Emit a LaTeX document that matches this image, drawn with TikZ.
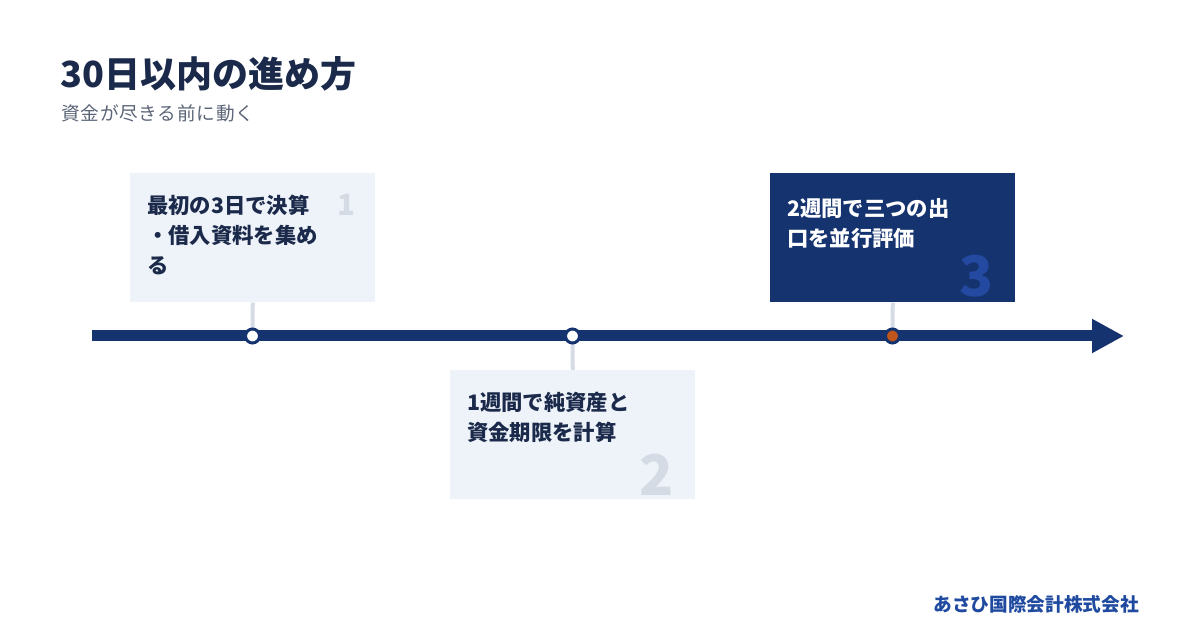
\documentclass[tikz,border=0pt]{standalone}
\usepackage{fontspec}
\setmainfont{Noto Sans CJK JP}
\usetikzlibrary{positioning,arrows.meta}
\definecolor{navy}{HTML}{14336F}
\definecolor{ink}{HTML}{1B2A4A}
\definecolor{panel}{HTML}{EEF2F9}
\definecolor{stemgray}{HTML}{D5DCE5}
\definecolor{numgray}{HTML}{D5DBE4}
\definecolor{numblue}{HTML}{2449A0}
\definecolor{ember}{HTML}{C0561B}
\definecolor{brand}{HTML}{1F4AA0}
\definecolor{subgray}{HTML}{5B6577}

\begin{document}
\begin{tikzpicture}[x=0.75pt,y=-0.75pt,
      stagebox/.style={anchor=north west, inner sep=0pt, minimum width=183.75pt, minimum height=96.75pt},
      stagetext/.style={anchor=north west, inner sep=0pt, align=left, font=\fontsize{16}{22.5}\selectfont\bfseries},
      dot/.style={circle, draw=navy, line width=2.25pt, fill=white, minimum size=10.5pt, inner sep=0pt},
      stem/.style={stemgray, line width=3pt}]
   \useasboundingbox (0,0) rectangle (1200,630);
   % heading
   \node[anchor=base west, inner sep=0pt, text=ink, font=\fontsize{27}{30}\selectfont\bfseries] (title) at (60,88) {30日以内の進め方};
   \node[anchor=base west, inner sep=0pt, text=subgray, font=\fontsize{14}{16}\selectfont\addfontfeature{LetterSpace=4}] (subtitle) at (61,121) {資金が尽きる前に動く};
   % three stages
   \node[stagebox, fill=panel] (s1) at (130,173) {};
   \node[stagebox, fill=panel] (s2) at (450,370) {};
   \node[stagebox, fill=navy] (s3) at (770,173) {};
   \node[stagetext, text=ink] (t1) at (147,195) {最初の3日で決算\\・借入資料を集め\\る};
   \node[stagetext, text=ink] (t2) at (467,392) {1週間で純資産と\\資金期限を計算};
   \node[stagetext, text=white] (t3) at (787,198) {2週間で三つの出\\口を並行評価};
   \node[anchor=base east, inner sep=0pt, text=numgray, font=\fontsize{22}{22}\selectfont\bfseries] (n1) at (356,216) {1};
   \node[anchor=base east, inner sep=0pt, text=numgray, font=\fontsize{42}{42}\selectfont\bfseries] (n2) at (674,496) {2};
   \node[anchor=base east, inner sep=0pt, text=numblue, font=\fontsize{42}{42}\selectfont\bfseries] (n3) at (994,297) {3};
   % timeline
   \coordinate (tl0) at (92,336);
   \coordinate (tl1) at (1124,336);
   \coordinate (d1) at (252.5,336);
   \coordinate (d2) at (572.5,336);
   \coordinate (d3) at (892.5,336);
   \draw[stem] (s1.south) -- (d1);
   \draw[stem] (s2.north) -- (d2);
   \draw[stem] (s3.south) -- (d3);
   \draw[navy, line width=8.25pt, -{Triangle[length=24pt, width=24pt]}] (tl0) -- (tl1);
   \node[dot] (p1) at (d1) {};
   \node[dot] (p2) at (d2) {};
   \node[dot, fill=ember] (p3) at (d3) {};
   % \draw[stem] (p3) -- (s3);
   \node[anchor=base east, inner sep=0pt, text=brand, font=\fontsize{14}{16}\selectfont\bfseries] (logo) at (1139,612) {あさひ国際会計株式会社};
\end{tikzpicture}
\end{document}
